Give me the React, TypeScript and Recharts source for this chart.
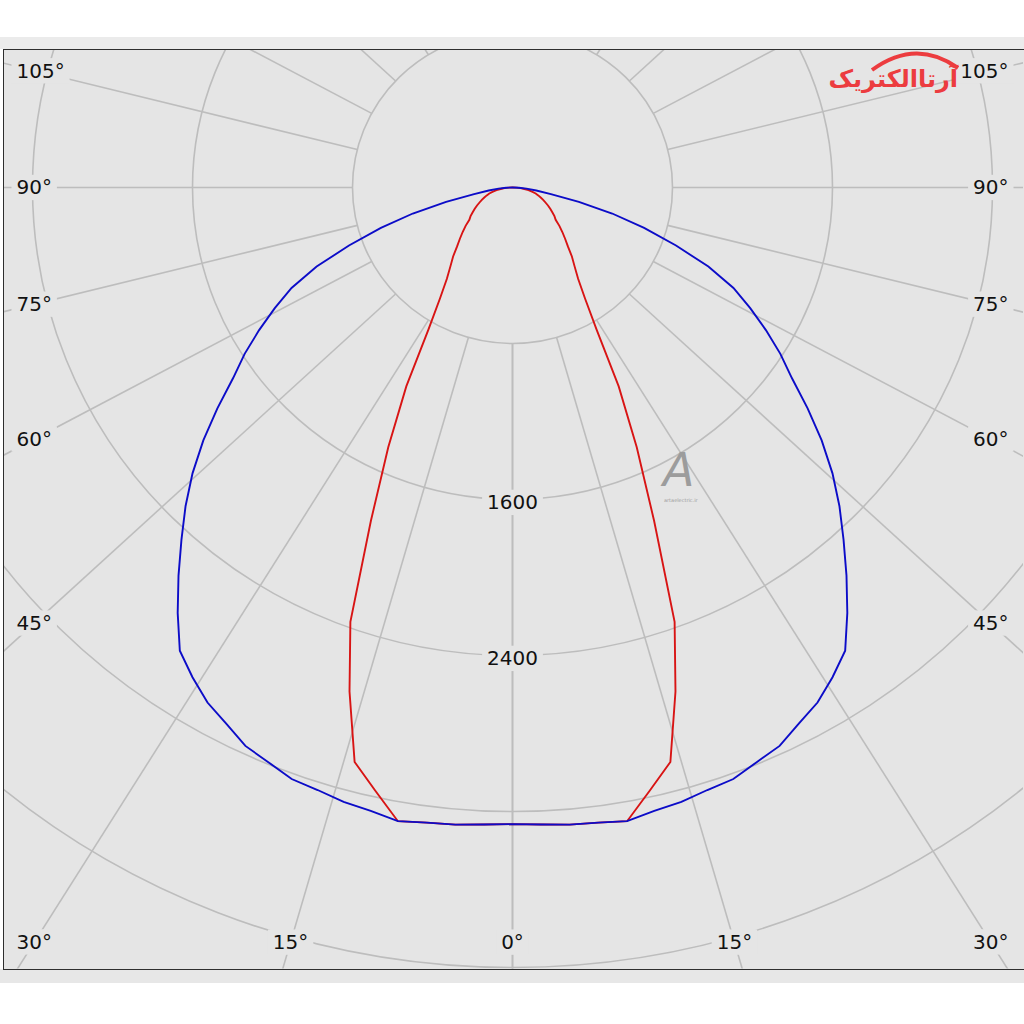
import React from "react";
import {
  RadarChart,
  Radar,
  PolarGrid,
  PolarAngleAxis,
  PolarRadiusAxis,
} from "recharts";

// luminous intensity (cd) read at gamma 0..90 deg, 2.5 deg steps
// past 90 deg both curves sit at the origin
const gammaSteps = [
  0, 2.5, 5, 7.5, 10, 12.5, 15, 17.5, 20, 22.5, 25, 27.5, 30, 32.5, 35, 37.5, 40, 42.5, 45,
  47.5, 50, 52.5, 55, 57.5, 60, 62.5, 65, 67.5, 70, 72.5, 75, 77.5, 80, 82.5, 85, 87.5, 90,
];
const planeBlue = [
  3265, 3270, 3280, 3285, 3300, 3275, 3262, 3240, 3228, 3190, 3160, 3100, 3050, 2978, 2900, 2750, 2598, 2450, 2312,
  2170, 2018, 1860, 1706, 1588, 1463, 1340, 1219, 1060, 870, 690, 516, 340, 195, 120, 70, 32, 0,
];
const planeRed = [
  3265, 3270, 3280, 3285, 3300, 3169, 3050, 2710, 2370, 1850, 1470, 1150, 840, 675, 572, 510, 462, 410, 372,
  338, 306, 272, 256, 236, 218, 200, 182, 166, 150, 135, 120, 100, 81, 60, 40, 20, 0,
];

// grid + labels
const gridGammas = [0, 15, 30, 45, 60, 75, 90, 105, 120, 135, 150, 165, 180];
const angleLabels = [0, 15, 30, 45, 60, 75, 90, 105];
const radiusTicks = [800, 1600, 2400, 3200, 4000];
const radiusLabels = [1600, 2400];

// the source picture is slightly squashed vertically
const K = 0.975;
const W = 1019;
const H = Math.ceil(918 / K);
const CX = 508.5;
const CY = 141;
const OUTER_R = 1000;
const R_MAX = 5000;
const INNER_R = (OUTER_R * radiusTicks[0]) / R_MAX;
const START_ANGLE = -90;
// its grid rays also fan out a bit more than the circles would suggest
const GRID_SPREAD = 1.07;
const LABEL_DX = 478;
const LABEL_DY = 774;
const FONT = "DejaVu Sans";
const BG = "#e5e5e5";
const RAD = Math.PI / 180;

const lookup = (arr: number[], gamma: number) => {
  const i = gammaSteps.indexOf(gamma);
  return i < 0 ? 0 : arr[i];
};

const toGamma = (pos: number) => (pos <= 180 ? pos : 360 - pos);

// full turn, pos 0 at the bottom, right half first
const rows = Array.from({ length: 144 }, (_, i) => {
  const pos = i * 2.5;
  const gamma = toGamma(pos);
  return { pos, blue: lookup(planeBlue, gamma), red: lookup(planeRed, gamma) };
});

const gridAngle = (gamma: number) =>
  Math.atan2(GRID_SPREAD * Math.sin(gamma * RAD), Math.cos(gamma * RAD)) / RAD;

const labelPositions = [...angleLabels, ...angleLabels.filter((g) => g > 0 && g < 180).map((g) => 360 - g)];
const polarAngles = gridGammas.flatMap((g) => [START_ANGLE + gridAngle(g), START_ANGLE - gridAngle(g)]);

const textWidth = (s: string) => s.replace("°", "").length * 12.7 + (s.includes("°") ? 10 : 0);

const AngleTick = (props: any) => {
  const { payload } = props;
  const pos = Number(payload.value) % 360;
  const gamma = toGamma(pos);
  if (!angleLabels.includes(gamma)) return <g />;
  const a = (START_ANGLE + (pos <= 180 ? 1 : -1) * gridAngle(gamma)) * RAD;
  const dx = Math.cos(a);
  const dy = -Math.sin(a);
  const tSide = Math.abs(dx) > 1e-6 ? LABEL_DX / Math.abs(dx) : Infinity;
  const tBottom = dy > 1e-6 ? LABEL_DY / dy : Infinity;
  const t = Math.min(tSide, tBottom);
  const px = CX + dx * t;
  const py = CY + dy * t;
  const text = `${gamma}°`;
  const w = textWidth(text);
  let anchor: "start" | "middle" | "end" = "middle";
  let tx = px;
  let left = px - w / 2;
  if (tSide < tBottom) {
    if (dx < 0) {
      anchor = "start";
      tx = px - 18;
      left = tx;
    } else {
      anchor = "end";
      tx = px + 18;
      left = tx - w;
    }
  }
  return (
    <g>
      <rect x={left - 5} y={py - 13} width={w + 10} height={26} fill={BG} />
      <text x={tx} y={py} dy="0.36em" textAnchor={anchor} fontFamily={FONT} fontSize={20} fill="#111">
        {text}
      </text>
    </g>
  );
};

const RadiusTick = (props: any) => {
  const { x, y, payload } = props;
  if (!radiusLabels.includes(payload.value)) return <g />;
  const text = String(payload.value);
  const w = textWidth(text);
  return (
    <g>
      <rect x={x - w / 2 - 5} y={y + 3 - 13} width={w + 10} height={26} fill={BG} />
      <text x={x} y={y + 3} dy="0.36em" textAnchor="middle" fontFamily={FONT} fontSize={20} fill="#111">
        {text}
      </text>
    </g>
  );
};

const App = () => {
  return (
    <div
      style={{
        position: "absolute",
        left: 0,
        top: 0,
        width: 1024,
        height: 1024,
        background: "#fff",
        overflow: "hidden",
        fontFamily: FONT,
      }}
    >
      <div style={{ position: "absolute", left: 0, top: 37, width: 1024, height: 12, background: "#ebebeb" }} />
      <div style={{ position: "absolute", left: 0, top: 969, width: 1024, height: 14, background: "#e7e7e7" }} />
      <div
        style={{
          position: "absolute",
          left: 3,
          top: 49,
          width: 1022,
          height: 921,
          boxSizing: "border-box",
          border: "1.5px solid #2e2e2e",
          background: BG,
          overflow: "hidden",
        }}
      >
        <div style={{ transform: `scaleY(${K})`, transformOrigin: "0 0" }}>
          <RadarChart
            width={W}
            height={H}
            data={rows}
            cx={CX}
            cy={CY}
            innerRadius={INNER_R}
            outerRadius={OUTER_R}
            startAngle={START_ANGLE}
            endAngle={START_ANGLE + 360}
            margin={{ top: 0, right: 0, bottom: 0, left: 0 }}
          >
            <PolarGrid gridType="circle" polarAngles={polarAngles} stroke="#bdbdbd" strokeWidth={1.6} />
            <PolarAngleAxis
              dataKey="pos"
              type="number"
              domain={[0, 360]}
              ticks={labelPositions}
              axisLine={false}
              tickLine={false}
              tick={<AngleTick />}
            />
            <PolarRadiusAxis
              type="number"
              angle={-90}
              domain={[radiusTicks[0], R_MAX]}
              allowDataOverflow
              ticks={radiusTicks}
              axisLine={false}
              tickLine={false}
              tick={<RadiusTick />}
            />
            <Radar dataKey="red" stroke="#d81414" strokeWidth={1.9} fill="none" dot={false} isAnimationActive={false} />
            <Radar dataKey="blue" stroke="#0c0cc8" strokeWidth={1.9} fill="none" dot={false} isAnimationActive={false} />
          </RadarChart>
        </div>
      </div>

      {/* watermark */}
      <div
        style={{
          position: "absolute",
          left: 663,
          top: 450,
          fontSize: 46,
          fontStyle: "italic",
          color: "#9c9c9c",
          lineHeight: "40px",
        }}
      >
        A
      </div>
      <div style={{ position: "absolute", left: 664, top: 497, fontSize: 5, lineHeight: "6px", color: "#9c9c9c" }}>
        artaelectric.ir
      </div>

      {/* logo */}
      <svg style={{ position: "absolute", left: 858, top: 42 }} width={112} height={36}>
        <path d="M 14 28 Q 58 -4 100 26" stroke="#ec3c3f" strokeWidth={4} fill="none" />
      </svg>
      <div
        style={{
          position: "absolute",
          left: 836,
          top: 62,
          width: 122,
          direction: "rtl",
          textAlign: "right",
          fontSize: 24,
          fontWeight: "bold",
          color: "#ec3c3f",
          lineHeight: "34px",
          whiteSpace: "nowrap",
        }}
      >
        آرتاالکتریک
      </div>
    </div>
  );
};

export default App;
